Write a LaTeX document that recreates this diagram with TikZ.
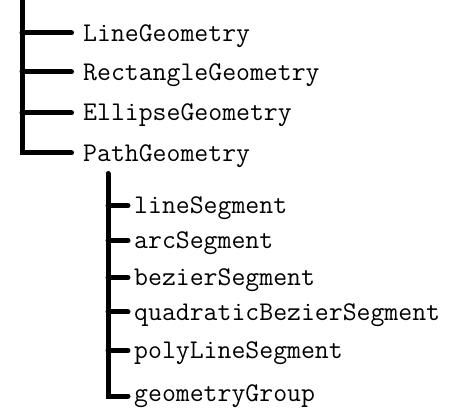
\documentclass[tikz,border=0pt]{standalone}
\usepackage{fontspec}
\begin{document}
\begin{tikzpicture}[x=1pt,y=-1pt,
  tree/.style={line width=5pt, line cap=round, line join=miter},
  lbl/.style={anchor=base west, inner sep=0pt, text=black,
    font=\fontsize{27}{31}\selectfont\ttfamily}]
\useasboundingbox (0,0) rectangle (455,419);
% main spine joints
\coordinate (top) at (22,-4);
\coordinate (m1) at (22,33);
\coordinate (m2) at (22,72);
\coordinate (m3) at (22,113);
\coordinate (m4) at (22,153);
\coordinate (e1) at (71.5,33);
\coordinate (e2) at (71.5,72);
\coordinate (e3) at (71.5,113);
\coordinate (e4) at (71.5,153);
% sub spine joints
\coordinate (stop) at (108,173.5);
\coordinate (s1) at (108,205.5);
\coordinate (s2) at (108,240.5);
\coordinate (s3) at (108,277.5);
\coordinate (s4) at (108,312);
\coordinate (s5) at (108,350.5);
\coordinate (s6) at (108,396);
\coordinate (f1) at (128,205.5);
\coordinate (f2) at (128,240.5);
\coordinate (f3) at (128,277.5);
\coordinate (f4) at (128,312);
\coordinate (f5) at (128,350.5);
\coordinate (f6) at (128,396);
% labels
\node[lbl] (lg) at (83,41.5) {LineGeometry};
\node[lbl] (rg) at (83,80.5) {RectangleGeometry};
\node[lbl] (eg) at (83,121) {EllipseGeometry};
\node[lbl] (pg) at (83,161.5) {PathGeometry};
\node[lbl] (ls) at (134,214) {lineSegment};
\node[lbl] (as) at (134,249) {arcSegment};
\node[lbl] (bs) at (134,286) {bezierSegment};
\node[lbl] (qs) at (134,320.5) {quadraticBezierSegment};
\node[lbl] (ps) at (134,358.5) {polyLineSegment};
\node[lbl] (gg) at (134,401) {geometryGroup};
% connectors
\draw[tree] (top) -- (m4) -- (e4);
\draw[tree] (m1) -- (e1);
\draw[tree] (m2) -- (e2);
\draw[tree] (m3) -- (e3);
\draw[tree] (stop) -- (s6) -- (f6);
\draw[tree] (s1) -- (f1);
\draw[tree] (s2) -- (f2);
\draw[tree] (s3) -- (f3);
\draw[tree] (s4) -- (f4);
\draw[tree] (s5) -- (f5);
\end{tikzpicture}
\end{document}
